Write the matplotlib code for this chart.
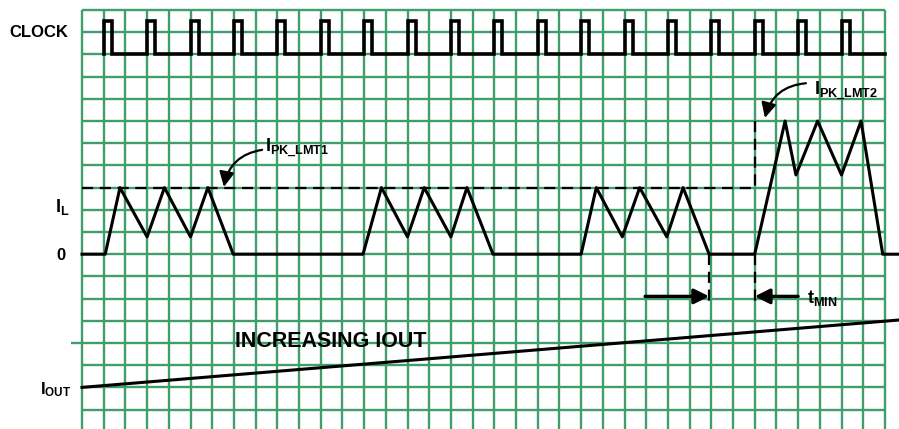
import matplotlib
matplotlib.use("Agg")
import matplotlib.pyplot as plt
import numpy as np

plt.rcParams['font.family'] = ['Liberation Sans', 'DejaVu Sans']
plt.rcParams['mathtext.fontset'] = 'custom'
plt.rcParams['mathtext.rm'] = 'Liberation Sans:bold'
plt.rcParams['mathtext.it'] = 'Liberation Sans:bold'
plt.rcParams['mathtext.bf'] = 'Liberation Sans:bold'

GREEN = '#3f9e6b'

# grid: columns across, rows downward
n_cols = 37
n_rows = 18

# clock (column units, row units)
clock_rises = [1, 3, 5, 7, 9, 11, 13, 15, 17, 19, 21, 23, 25, 27, 29, 31, 33, 35]
clock_width = 0.37
clock_high = 0.5
clock_low = 2.0
clock_end = 37

# inductor current waveform vertices
il_x = [0, 1.07, 1.75, 3.0, 3.8, 5.0, 5.8, 6.97,
        12.95, 13.8, 15.0, 15.77, 17.0, 17.74, 18.94,
        23.0, 23.7, 24.9, 25.7, 26.95, 27.7, 28.9,
        31.0, 32.4, 32.9, 33.9, 35.0, 35.9, 36.9, 37.7]
il_y = [11, 11, 8, 10.22, 8, 10.22, 8, 11,
        11, 8, 10.22, 8, 10.22, 8, 11,
        11, 8, 10.22, 8, 10.22, 8, 11,
        11, 5, 7.43, 5, 7.43, 5, 11, 11]

zero_row = 11
pk1_row = 8
pk2_row = 5
pk1_end = 31.0
tmin_start = 28.9
tmin_end = 31.0
arrow_row = 12.9

# output current ramp
iout_x = [0, 37.7]
iout_y = [17.0, 13.96]

fig = plt.figure(figsize=(8.99, 4.29), dpi=100)
ax = fig.add_axes([0, 0, 1, 1])
ax.set_xlim(-82 / 21.7, (899 - 82) / 21.7)
ax.set_ylim((429 - 10) / 22.2, -10 / 22.2)
ax.axis('off')

# green grid
ax.vlines(np.arange(n_cols + 1), 0, 20, color=GREEN, lw=1.7, zorder=1)
ax.hlines(np.arange(n_rows + 1), 0, n_cols, color=GREEN, lw=1.7, zorder=1)
ax.hlines(15, -0.5, 0, color=GREEN, lw=1.7, zorder=1)

# clock
cx, cy = [], []
for i, r in enumerate(clock_rises):
    nxt = clock_rises[i + 1] if i + 1 < len(clock_rises) else clock_end
    cx += [r, r, r + clock_width, r + clock_width, nxt]
    cy += [clock_low, clock_high, clock_high, clock_low, clock_low]
ax.plot(cx, cy, color='black', lw=2.6, solid_joinstyle='miter', zorder=3)

# inductor current
ax.plot(il_x, il_y, color='black', lw=2.2, zorder=3)

# dashed limits
ax.plot([0, pk1_end], [pk1_row, pk1_row], color='black', lw=1.6,
        dashes=(5, 3), zorder=3)
ax.plot([pk1_end, pk1_end], [pk2_row, pk1_row], color='black', lw=1.6,
        dashes=(5, 3), zorder=3)
for xv in [tmin_start, tmin_end]:
    ax.plot([xv, xv], [zero_row, arrow_row + 0.2], color='black', lw=1.6,
            dashes=(5, 3), zorder=3)

head = '-|>,head_length=0.9,head_width=0.45'

# tmin arrows
ax.annotate('', xy=(tmin_start, arrow_row), xytext=(tmin_start - 2.95, arrow_row),
            arrowprops=dict(arrowstyle=head, color='black', lw=2.4,
                            shrinkA=0, shrinkB=0), zorder=4)
ax.annotate('', xy=(tmin_end, arrow_row), xytext=(tmin_end + 2.0, arrow_row),
            arrowprops=dict(arrowstyle=head, color='black', lw=2.4,
                            shrinkA=0, shrinkB=0), zorder=4)
ax.text(33.4, 13.2, r'$\mathrm{t_{MIN}}$', fontsize=13, ha='left',
        va='baseline', zorder=4)

# peak limit callouts
ax.annotate('', xy=(6.54, 7.97), xytext=(8.3, 6.3),
            arrowprops=dict(arrowstyle=head, color='black', lw=1.6,
                            shrinkA=0, shrinkB=0,
                            connectionstyle='arc3,rad=0.35'), zorder=4)
ax.text(8.43, 6.45, r'$\mathrm{I_{PK\_LMT1}}$', fontsize=13, ha='left',
        va='baseline', zorder=4)
ax.annotate('', xy=(31.47, 4.86), xytext=(33.36, 3.3),
            arrowprops=dict(arrowstyle=head, color='black', lw=1.6,
                            shrinkA=0, shrinkB=0,
                            connectionstyle='arc3,rad=0.35'), zorder=4)
ax.text(33.73, 3.85, r'$\mathrm{I_{PK\_LMT2}}$', fontsize=13, ha='left',
        va='baseline', zorder=4)

# output current
ax.plot(iout_x, iout_y, color='black', lw=2.2, zorder=3)
ax.text(7.05, 15.2, 'INCREASING IOUT', fontsize=15.5, fontweight='bold',
        ha='left', va='baseline', zorder=4)

# left labels
ax.text(-1.98, 1.0, 'CLOCK', fontsize=12, fontweight='bold', ha='center',
        va='center')
ax.text(-1.25, 9.1, r'$\mathrm{I_L}$', fontsize=13, ha='left', va='baseline')
ax.text(-0.97, 11.04, '0', fontsize=12, fontweight='bold', ha='center', va='center')
ax.text(-1.95, 17.3, r'$\mathrm{I_{OUT}}$', fontsize=12, ha='left', va='baseline')

fig.savefig('out.png', dpi=100)
